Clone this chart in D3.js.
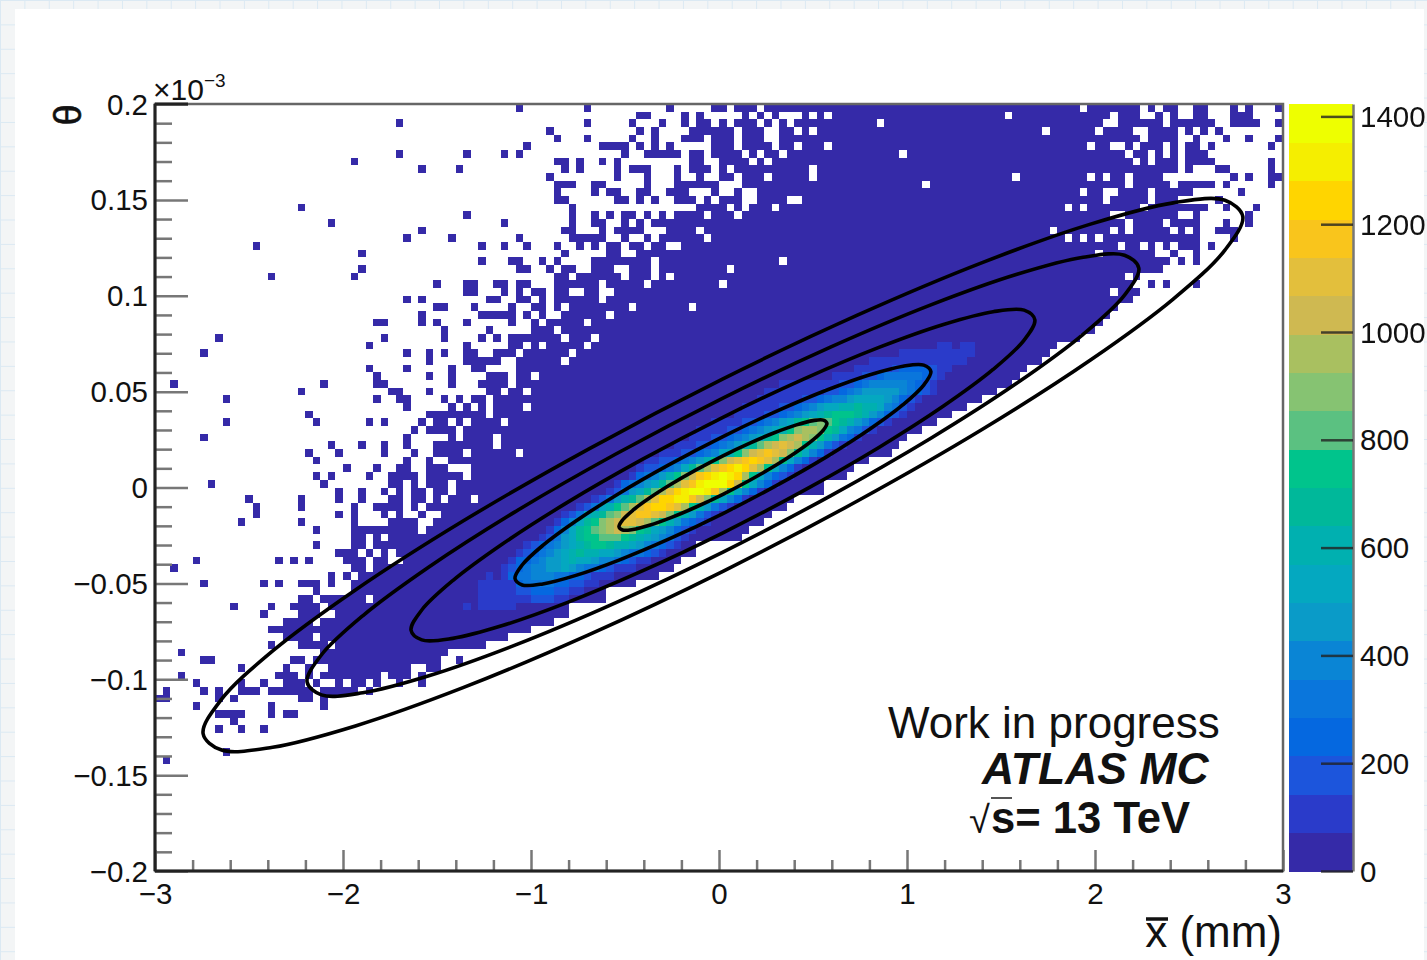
<!DOCTYPE html>
<meta charset="utf-8">
<style>
  html, body { margin: 0; padding: 0; }
  body {
    width: 1427px; height: 960px; overflow: hidden;
    background-color: #f3f5f6;
    background-image: linear-gradient(#dbe9f3 1px, transparent 1px), linear-gradient(90deg, #dbe9f3 1px, transparent 1px);
    background-size: 24.4px 24.4px;
  }
  svg { display: block; position: absolute; left: 0; top: 0; filter: blur(0.6px); }
  text { font-family: "Liberation Sans", Arial, sans-serif; fill: #111; }
  .tick text { font-size: 29.5px; }
</style>
<svg width="1427" height="960"></svg>
<script src="https://d3js.org/d3.v7.min.js"></script>
<script>
// histogram binning
var nBinsX = 150, nBinsY = 100;
var xExtent = [-3, 3], yExtent = [-0.2, 0.2], zMax = 1423;

// occupied bins of each row (row 0 = top of the plot), "a-b" is a run of columns
var occupiedRows = [
  "48 57 68 74-75 77-79 81-122 124-130 132 134-135 138-139 143 145 149",
  "64-65 70 72 78 80 82 86 88 90-112 114-126 128-130 133 135 138-139 143-145",
  "32 57 63 67 70 72-73 75 77-79 81 83 85-95 97-125 128-133 135-140 143-146 149",
  "52 64 66 71-76 78-80 83-84 86 88-117 119-124 126-129 132-135 137 139 141",
  "53 57 63 66 70-72 74-76 78-80 83-130 132-135 138 142 145 149",
  "49 59-62 64 66 68 74-76 78-81 83-84 86-88 90-123 125-126 129 131-133 135 137-138 140 148",
  "32 41 46 48 62 65-69 71-72 74-77 79 81-82 84-98 100-128 130-131 133 135 137-139",
  "26 53-54 56 59 61 71-72 75-78 80 82-129 131 133-135 137-140 148",
  "35 40 54 56 61 63-65 69 71-73 75 77-86 88-135 137 141-142 148",
  "52 61 65 69 72 75-76 78-80 82-86 88-113 115-123 125 127-128 130-133 143 145 148-149",
  "53-55 58-59 65 69-74 78-101 103-128 130-134 136-140 142 148",
  "53 58 60-61 64-65 68-70 74 77 80-122 124-125 128-131 133-137 144",
  "53-54 61-62 64 66 69-71 73 75-77 80-83 86-125 127-131 133-135 141",
  "19 55 72-75 77 79-81 83-120 122 124-130 132-139 142 146",
  "41 55 58 60 62-63 65 67 69-72 74-76 78-126 129-135 138 145",
  "23 46 55 58-59 62 64 66-128 130-133 135-138 142 145",
  "35 54-55 59 61-64 68-71 73-118 120-126 128 130-134 136 138 141-143",
  "33 39 48 55-59 62 65 67-72 74-120 122 124 126-138 143",
  "13 43 46 49 53 56 58 60-61 63-64 66-67 70-127 129-130 132 134 136-138 140",
  "27 54 60-61 64-124 126-132 135 138",
  "43 47-48 51 53 58-65 67-82 84-134 136 138",
  "27 48-49 52 54-55 58-60 63-65 67-75 77-133",
  "15 26 53-54 56-61 63-65 67 69-128 130",
  "37 41-42 45-46 48-49 53-58 60-64 66-74 76-129 132 134 138",
  "41-42 46 48 50-51 53-54 57-58 61-126 128-130",
  "33 35 44-45 48-49 51 53-58 60-129",
  "37-38 42 47 50-51 53 55-62 64-70 72-127",
  "35 43-47 49 51 54-59 61-126",
  "29-30 35 37 41 47 50 52-56 58-125",
  "38 44 50-52 54-124",
  "8 30 38 43 45 47-53 55-57 59-122",
  "28 41 47-48 50 52-56 58-119",
  "6 33 36 38 41-42 45-47 49-54 56-118",
  "36 41-45 48-53 55-117",
  "28 33 39 42-43 48-115",
  "29 36 39 44-46 48-49 51-114",
  "2 22 29-30 39 43-46 48-113",
  "19 31-32 36 44-45 47-48 50-111",
  "9 29 32-33 38 40 42-43 45-109",
  "33 39 41 43 45-48 50-107",
  "20 36-43 45-105",
  "9 21 28 30 35 37-38 40 42-45 47-103",
  "34 36-39 41-101",
  "6 33 39 41-44 46-99",
  "23 27 30 33 37-44 46-98",
  "20 24 30 34 37-40 42-47 49-97",
  "21 33 36 39-94",
  "25 29 32-33 36-38 42-92",
  "21 23 28 31-34 36-40 42-91",
  "7 22 31-32 34 36-38 40-88",
  "24 27 30 32 34-35 37-38 40-88",
  "12 19 24 27 31-32 34-35 37 39-41 43-84",
  "13 19 26 29-32 34 36-83",
  "13 24 26 30 32 35 38-81",
  "11 19 26 31-34 37-80",
  "21 26-34 36-78",
  "26-27 29 31-77",
  "21 26-27 29-71",
  "24-26 28 30 32-71",
  "5 16 18 20 25-27 29-30 33-69",
  "2 26-27 29-68",
  "23 25 27-66",
  "6 14 16 19-21 23 26-63",
  "21 26-59",
  "19-20 22-27 29-59",
  "10 15 18-21 23-54",
  "14 19-21 24-54",
  "17-20 22-52",
  "15-49",
  "17-20 22-46",
  "15 19-22 24-43",
  "3 22-38",
  "6-7 18-19 21-37 40",
  "11 17 20 23-33 36-37",
  "3 16-18 20 22-29 31-33 35",
  "5 11 14 17-19 21 24 26-27 29 32 35",
  "1 6 8 11-13 15-20 22-26 28",
  "0-1 8 10 19-20 22",
  "5 15 22",
  "8-11 15 17-18",
  "10",
  "8 11 14",
  "", "",
  "9",
  "1"
];
var sparseCount = 30;

// colour-band index of the populated core, one string per row starting at coreFirstRow
var coreFirstRow = 31;
var coreStart = [104, 99, 95, 93, 90, 83, 81, 80, 78, 77, 74, 72, 71, 69, 67, 65, 64, 63, 61, 60, 58, 56, 54, 53, 52, 51, 49, 48, 47, 46, 44, 43, 43, 43, 41];
var coreBands = [
  "11011",
  "1111111111",
  "1111111111111",
  "1111123333211",
  "111122344444321",
  "111111112234555554321",
  "11111111223456666654321",
  "1111112234556777765321",
  "11111223456778898875421",
  "1111223456789aaa9865321",
  "111122345679abcba9865321",
  "111122345678acddca975421",
  "11122345679acdedca86431",
  "11122345689bdefeda86421",
  "1112234578acefgfec97531",
  "112234568acefghgfda7531",
  "12234579bdfghihfda7531",
  "134568aceghijihda75321",
  "1345679bdfgijjjhea7531",
  "124679bdfhijjigda7531",
  "124689bdfhhiigec97531",
  "12478abdfghhgfda86421",
  "124789bcefggfeca86421",
  "13579acdeffedba864321",
  "13579abcdedca9765321",
  "124679aabbba98765421",
  "123456789aa9887654321",
  "12345678988776544321",
  "1334566787765543211",
  "123455667654432111",
  "10134455544332111",
  "1111134444332211",
  "11111223332211",
  "111111122211",
  "1011111"
];

// the palette of the z axis, lowest band first
var bandColors = ["#352aa8", "#2a3bca", "#1c55dc", "#0568e0", "#0a76dc", "#0a85d5", "#0a9bc8", "#04a8c0", "#00b0b0", "#00b89a",
  "#00c48c", "#5bc181", "#86c372", "#a9c060", "#cfb951", "#e3bf3c", "#f9c51c", "#ffd500", "#f5ee00", "#eeff00"];

// the contours are 1 to 5 sigma ellipses around one centre
var ellipseCentre = [0.021, 0.0065];
var ellipseX = [.553,.534,.479,.391,.2765,.143,0,-.143,-.2765,-.391,-.479,-.534,-.553,-.534,-.479,-.391,-.2765,-.143,0,.143,.2765,.391,.479,.534];
var ellipseY = [.02698,.02866,.02839,.02617,.02218,.01667,.01004,.00271,-.0048,-.01199,-.01835,-.02346,-.02698,-.02866,-.02839,-.02617,-.02218,-.01667,-.01004,-.00271,.0048,.01199,.01835,.02346];
var contourSigmas = [5, 4, 3, 2, 1];

// ticks
var xMajorTicks = [-3, -2, -1, 0, 1, 2, 3];
var xMinorTicks = [-2.8,-2.6,-2.4,-2.2,-1.8,-1.6,-1.4,-1.2,-.8,-.6,-.4,-.2,.2,.4,.6,.8,1.2,1.4,1.6,1.8,2.2,2.4,2.6,2.8];
var yMajorTicks = [-.2, -.15, -.1, -.05, 0, .05, .1, .15, .2];
var yMinorTicks = [-.19,-.18,-.17,-.16,-.14,-.13,-.12,-.11,-.09,-.08,-.07,-.06,-.04,-.03,-.02,-.01,.01,.02,.03,.04,.06,.07,.08,.09,.11,.12,.13,.14,.16,.17,.18,.19];
var zTicks = [0, 200, 400, 600, 800, 1000, 1200, 1400];

var svg = d3.select("svg");
var plot = {left: 155, right: 1283, top: 104, bottom: 871};
var bar = {left: 1289, right: 1353};

svg.append("rect").attr("x", 15).attr("y", 9).attr("width", 1409).attr("height", 960).attr("fill", "#fff");

var x = d3.scaleLinear().domain(xExtent).range([plot.left, plot.right]);
var y = d3.scaleLinear().domain(yExtent).range([plot.bottom, plot.top]);
var z = d3.scaleLinear().domain([0, zMax]).range([plot.bottom, plot.top]);
var color = d3.scaleQuantize().domain([0, zMax]).range(bandColors);

var xStep = (xExtent[1] - xExtent[0]) / nBinsX;
var yStep = (yExtent[1] - yExtent[0]) / nBinsY;
var zStep = zMax / bandColors.length;

// collect the bins
var cells = {};
occupiedRows.forEach(function(row, r) {
  row.split(" ").filter(Boolean).forEach(function(tok) {
    var p = tok.split("-").map(Number);
    for (var c = p[0]; c <= (p.length > 1 ? p[1] : p[0]); c++) cells[r + "_" + c] = {r: r, c: c, count: sparseCount};
  });
});
coreBands.forEach(function(str, i) {
  var r = coreFirstRow + i;
  str.split("").forEach(function(ch, k) {
    var c = coreStart[i] + k;
    cells[r + "_" + c] = {r: r, c: c, count: (parseInt(ch, 36) + 0.5) * zStep};
  });
});

svg.append("g").attr("shape-rendering", "crispEdges")
  .selectAll("rect").data(Object.values(cells)).enter().append("rect")
  .attr("x", function(d) { return x(xExtent[0] + d.c * xStep); })
  .attr("y", function(d) { return y(yExtent[1] - d.r * yStep); })
  .attr("width", function(d) { return x(xExtent[0] + (d.c + 1) * xStep) - x(xExtent[0] + d.c * xStep); })
  .attr("height", function(d) { return y(yExtent[1] - (d.r + 1) * yStep) - y(yExtent[1] - d.r * yStep); })
  .attr("fill", function(d) { return color(d.count); });

// contours
function contourPath(k) {
  return d3.line()
    .x(function(i) { return x(ellipseCentre[0] + k * ellipseX[i]); })
    .y(function(i) { return y(ellipseCentre[1] + k * ellipseY[i]); })
    .curve(d3.curveCatmullRomClosed.alpha(0.5))(d3.range(ellipseX.length));
}

svg.append("g").selectAll("path")
  .data(contourSigmas).enter().append("path")
  .attr("d", contourPath)
  .attr("fill", "none").attr("stroke", "#000").attr("stroke-width", 3.6);

// colour bar
svg.append("g").attr("shape-rendering", "crispEdges")
  .selectAll("rect").data(bandColors).enter().append("rect")
  .attr("x", bar.left).attr("width", bar.right - bar.left)
  .attr("y", function(d, i) { return z((i + 1) * zStep); })
  .attr("height", function(d, i) { return z(i * zStep) - z((i + 1) * zStep) + 0.5; })
  .attr("fill", function(d) { return d; });

var zAxis = svg.append("g").attr("transform", "translate(" + bar.right + ",0)")
  .call(d3.axisRight(z).tickValues(zTicks).tickSize(0).tickPadding(7).tickFormat(d3.format("d")));
zAxis.select(".domain").attr("stroke", "#777").attr("stroke-width", 2.5);
zAxis.selectAll(".tick").append("line").attr("x1", -32).attr("x2", 0).attr("stroke", "#222").attr("stroke-opacity", 0.8).attr("stroke-width", 2.5);
zAxis.selectAll(".tick text").attr("dy", "0.34em");

// frame and ticks
function styleTicks(g) {
  g.select(".domain").remove();
  g.selectAll(".tick line").attr("stroke", "#777").attr("stroke-width", 2.5);
}
svg.append("g").attr("transform", "translate(" + plot.left + ",0)")
  .call(d3.axisRight(y).tickValues(yMinorTicks).tickSize(17).tickFormat("")).call(styleTicks);
svg.append("g").attr("transform", "translate(" + plot.left + ",0)")
  .call(d3.axisRight(y).tickValues(yMajorTicks).tickSize(33).tickFormat("")).call(styleTicks);
svg.append("g").attr("transform", "translate(0," + plot.bottom + ")")
  .call(d3.axisTop(x).tickValues(xMinorTicks).tickSize(11).tickFormat("")).call(styleTicks);
svg.append("g").attr("transform", "translate(0," + plot.bottom + ")")
  .call(d3.axisTop(x).tickValues(xMajorTicks).tickSize(21).tickFormat("")).call(styleTicks);

var yLabels = svg.append("g").attr("transform", "translate(" + plot.left + ",0)")
  .call(d3.axisLeft(y).tickValues(yMajorTicks).tickSize(0).tickPadding(7).tickFormat(d3.format("~g")));
yLabels.select(".domain").remove();
yLabels.selectAll(".tick text").attr("dy", "0.34em");

var xLabels = svg.append("g").attr("transform", "translate(0," + plot.bottom + ")")
  .call(d3.axisBottom(x).tickValues(xMajorTicks).tickSize(0).tickPadding(13).tickFormat(d3.format("d")));
xLabels.select(".domain").remove();
xLabels.selectAll(".tick text").attr("dy", "0.69em");

svg.append("rect").attr("x", plot.left).attr("y", plot.top)
  .attr("width", plot.right - plot.left).attr("height", plot.bottom - plot.top)
  .attr("fill", "none").attr("stroke", "#666").attr("stroke-width", 2.5);
svg.append("line").attr("x1", plot.left).attr("x2", plot.left).attr("y1", plot.top).attr("y2", plot.bottom).attr("stroke", "#222").attr("stroke-width", 3);
svg.append("line").attr("x1", plot.left).attr("x2", plot.right).attr("y1", plot.bottom).attr("y2", plot.bottom).attr("stroke", "#222").attr("stroke-width", 3);
svg.append("line").attr("x1", plot.left).attr("x2", plot.left + 33).attr("y1", plot.top).attr("y2", plot.top).attr("stroke", "#222").attr("stroke-width", 3);

// exponent above the y axis
var expo = svg.append("text").attr("x", 153).attr("y", 100).attr("font-size", 30);
expo.append("tspan").text("\u00d710");
expo.append("tspan").attr("font-size", 19).attr("dy", -13).text("\u22123");

// axis titles
svg.append("text").attr("transform", "translate(81,115) rotate(-90)")
  .attr("text-anchor", "middle").attr("font-family", "DejaVu Sans").attr("font-size", 38).attr("stroke", "#111").attr("stroke-width", 0.6).text("\u03b8");

svg.append("text").attr("x", 1282).attr("y", 947).attr("text-anchor", "end").attr("font-size", 44).text("x (mm)");
svg.append("line").attr("x1", 1146).attr("x2", 1168).attr("y1", 919).attr("y2", 919).attr("stroke", "#111").attr("stroke-width", 3.5);

// annotation
svg.append("text").attr("x", 888).attr("y", 738).attr("font-size", 44).text("Work in progress");
svg.append("text").attr("x", 982).attr("y", 784).attr("font-size", 44.5).attr("font-weight", "bold").attr("font-style", "italic").text("ATLAS MC");
svg.append("text").attr("x", 969).attr("y", 833).attr("font-size", 38).text("\u221a");
svg.append("text").attr("x", 991).attr("y", 833).attr("font-size", 43.6).attr("font-weight", "bold").text("s= 13 TeV");
svg.append("line").attr("x1", 991).attr("x2", 1012).attr("y1", 798).attr("y2", 798).attr("stroke", "#555").attr("stroke-width", 2);
</script>
